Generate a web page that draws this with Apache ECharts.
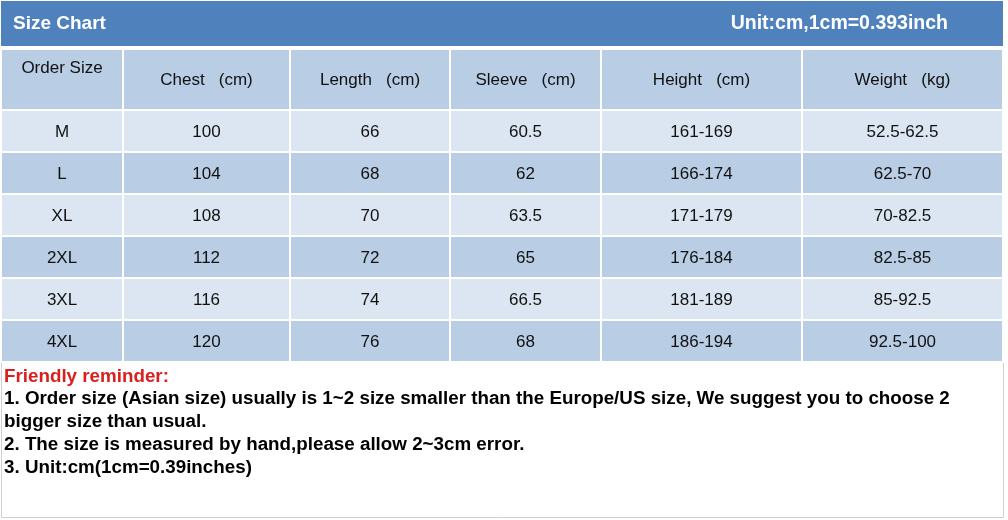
<!DOCTYPE html>
<html><head><meta charset="utf-8">
<script src="https://cdn.jsdelivr.net/npm/echarts@6/dist/echarts.min.js"></script>
<style>html,body{margin:0;padding:0;background:#fff}#c{width:1008px;height:520px}</style>
</head><body><div id="c"></div>
<script>
// ---- data ----
const titleText = 'Size Chart';
const unitText = 'Unit:cm,1cm=0.393inch';
const headers = ['Order Size', 'Chest   (cm)', 'Length   (cm)', 'Sleeve   (cm)', 'Height   (cm)', 'Weight   (kg)'];
const sizes = ['M', 'L', 'XL', '2XL', '3XL', '4XL'];
const chest = [100, 104, 108, 112, 116, 120];
const lengthCm = [66, 68, 70, 72, 74, 76];
const sleeve = [60.5, 62, 63.5, 65, 66.5, 68];
const heightRange = ['161-169', '166-174', '171-179', '176-184', '181-189', '186-194'];
const weightRange = ['52.5-62.5', '62.5-70', '70-82.5', '82.5-85', '85-92.5', '92.5-100'];
const reminderTitle = 'Friendly reminder:';
const reminderLines = [
  '1. Order size (Asian size) usually is 1~2 size smaller than the Europe/US size, We suggest you to choose 2',
  'bigger size than usual.',
  '2. The size is measured by hand,please allow 2~3cm error.',
  '3. Unit:cm(1cm=0.39inches)'
];

// ---- layout (not data) ----
const colWidths = [122, 167, 160, 151, 201, 201];
const headerH = 61, rowH = 42;
const totalW = colWidths.reduce((a, b) => a + b, 0);
const totalH = headerH + rowH * sizes.length;
const colStart = colWidths.map((w, i) => colWidths.slice(0, i).reduce((a, b) => a + b, 0));
const FONT = "'Liberation Sans', Arial, sans-serif";

// build cells
const columns = [sizes, chest, lengthCm, sleeve, heightRange, weightRange];
const cells = [];
headers.forEach((h, c) => cells.push([c, 0, h]));
sizes.forEach((s, r) => columns.forEach((col, c) => cells.push([c, r + 1, String(col[r])])));

function renderItem(params, api) {
  const c = api.value(0), r = api.value(1);
  const txt = cells[params.dataIndex][2];
  const x0 = colStart[c], x1 = x0 + colWidths[c];
  const y0 = r === 0 ? 0 : headerH + (r - 1) * rowH;
  const y1 = r === 0 ? headerH : y0 + rowH;
  const p0 = api.coord([x0, y0]), p1 = api.coord([x1, y1]);
  const fill = (r === 0 || r % 2 === 0) ? '#B9CDE5' : '#DCE6F2';
  const cx = (p0[0] + p1[0]) / 2;
  let cy = (p0[1] + p1[1]) / 2 + 1;
  if (r === 0 && c === 0) cy = p0[1] + 19;
  return {
    type: 'group',
    children: [
      { type: 'rect', shape: { x: p0[0], y: p0[1], width: p1[0] - p0[0], height: p1[1] - p0[1] },
        style: { fill: fill, stroke: '#fff', lineWidth: 2 } },
      { type: 'text', style: { x: cx, y: cy, text: txt, fill: '#111', font: '17px ' + FONT,
        align: 'center', verticalAlign: 'middle' } }
    ]
  };
}

const chart = echarts.init(document.getElementById('c'), null, { renderer: 'canvas' });
const remGraphics = [
  { type: 'rect', left: 1, top: 362, shape: { width: 1002, height: 155 },
    style: { fill: '#fff', stroke: '#d0d0d0', lineWidth: 1 }, z: 0 },
  { type: 'text', left: 4, top: 367, style: { text: reminderTitle, fill: '#DA1F1D', font: 'bold 18.8px ' + FONT }, z: 5 }
];
reminderLines.forEach((t, i) => remGraphics.push({
  type: 'text', left: 4, top: 389 + i * 23, style: { text: t, fill: '#000', font: 'bold 18.8px ' + FONT }, z: 5
}));

chart.setOption({
  animation: false,
  backgroundColor: '#fff',
  graphic: [
    { type: 'rect', left: 1, top: 1, shape: { width: 1002, height: 45 }, style: { fill: '#4F81BD' }, z: 0 },
    { type: 'text', left: 13, top: 14, style: { text: titleText, fill: '#fff', font: 'bold 19px ' + FONT }, z: 5 },
    { type: 'text', right: 60, top: 14, style: { text: unitText, fill: '#fff', font: 'bold 19.5px ' + FONT }, z: 5 }
  ].concat(remGraphics),
  grid: { left: 1, top: 49, width: totalW, height: totalH },
  xAxis: { type: 'value', min: 0, max: totalW, show: false },
  yAxis: { type: 'value', min: 0, max: totalH, inverse: true, show: false },
  series: [{
    type: 'custom',
    renderItem: renderItem,
    data: cells.map(d => [d[0], d[1]]),
    clip: false
  }]
});
</script>
</body></html>
